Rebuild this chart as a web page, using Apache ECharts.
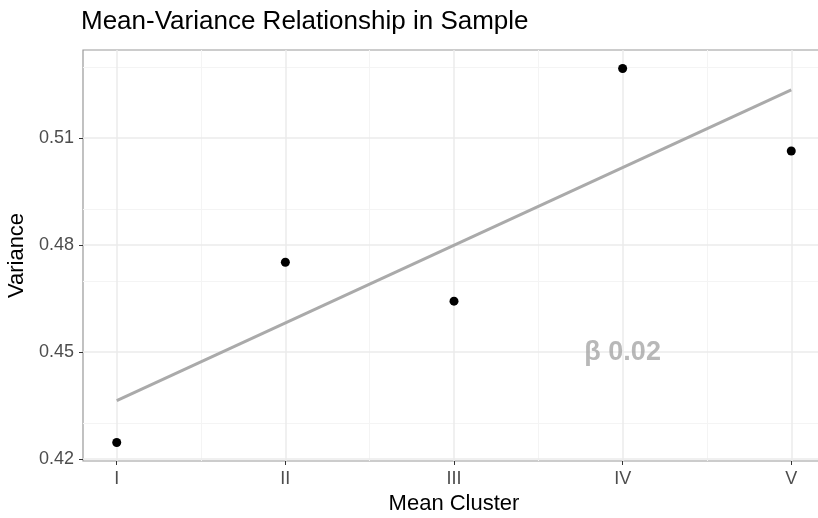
<!DOCTYPE html>
<html>
<head>
<meta charset="utf-8">
<script src="https://cdn.jsdelivr.net/npm/echarts@6/dist/echarts.min.js"></script>
<style>
  html, body { margin: 0; padding: 0; background: #fff; overflow: hidden; }
  #chart { width: 818px; height: 518px; }
</style>
</head>
<body>
<div id="chart"></div>
<script>
// data
var clusters = ['I', 'II', 'III', 'IV', 'V'];
var clusterPos = [1, 2, 3, 4, 5];
var variance = [0.4247, 0.4752, 0.4643, 0.5295, 0.5064];
var yTicks = [0.42, 0.45, 0.48, 0.51];
var yMinor = [0.435, 0.465, 0.495, 0.525];
var xMinor = [1.5, 2.5, 3.5, 4.5];
var fitX = [1, 5];
var fitY = [0.4364, 0.5235];
var betaPos = [4, 0.45];
var betaText = 'β 0.02';

var FONT = '"Liberation Sans", Arial, sans-serif';

function gridLines(axis, vals, color, width) {
    return vals.map(function (v) {
        var d = { lineStyle: { color: color, width: width, type: 'solid' } };
        d[axis] = v;
        return d;
    });
}

var myChart = echarts.init(document.getElementById('chart'));
var option = {
    animation: false,
    title: {
        text: 'Mean-Variance Relationship in Sample',
        left: 76,
        top: 4,
        textStyle: { fontFamily: FONT, fontSize: 26, fontWeight: 'normal', color: '#000' }
    },
    grid: {
        left: 83, width: 742, top: 50, bottom: 57,
        outerBoundsMode: 'none',
        containLabel: false,
        show: true, borderColor: '#999', borderWidth: 1.2, backgroundColor: '#fff'
    },
    xAxis: {
        type: 'value',
        min: 0.8, max: 5.2,
        name: 'Mean Cluster',
        nameLocation: 'middle',
        nameGap: 25,
        nameTextStyle: { fontFamily: FONT, fontSize: 22, color: '#000' },
        axisLine: { show: false },
        splitLine: { show: false },
        axisTick: { show: true, length: 4, customValues: clusterPos, lineStyle: { color: '#333' } },
        axisLabel: {
            customValues: clusterPos,
            margin: 9,
            fontFamily: FONT, fontSize: 18, color: '#4d4d4d',
            formatter: function (v) { return clusters[Math.round(v) - 1]; }
        }
    },
    yAxis: {
        type: 'value',
        min: 0.4195, max: 0.5347,
        name: 'Variance',
        nameLocation: 'middle',
        nameGap: 52,
        nameTextStyle: { fontFamily: FONT, fontSize: 22, color: '#000' },
        axisLine: { show: false },
        splitLine: { show: false },
        axisTick: { show: true, length: 4, customValues: yTicks, lineStyle: { color: '#333' } },
        axisLabel: {
            customValues: yTicks,
            margin: 9,
            fontFamily: FONT, fontSize: 18, color: '#4d4d4d',
            formatter: function (v) { return v.toFixed(2); }
        }
    },
    series: [
        {
            // panel grid, drawn behind everything
            type: 'line',
            data: [],
            z: 1,
            silent: true,
            markLine: {
                silent: true,
                z: 1,
                symbol: 'none',
                label: { show: false },
                animation: false,
                data: [].concat(
                    gridLines('xAxis', xMinor, '#f4f4f4', 1),
                    gridLines('yAxis', yMinor, '#f4f4f4', 1),
                    gridLines('xAxis', clusterPos, '#ebebeb', 1.5),
                    gridLines('yAxis', yTicks, '#ebebeb', 1.5)
                )
            }
        },
        {
            type: 'line',
            z: 3,
            data: fitX.map(function (x, i) { return [x, fitY[i]]; }),
            showSymbol: false,
            lineStyle: { color: '#aaaaaa', width: 3 }
        },
        {
            type: 'scatter',
            z: 4,
            data: clusterPos.map(function (x, i) { return [x, variance[i]]; }),
            symbolSize: 9,
            itemStyle: { color: '#000', opacity: 1 }
        },
        {
            type: 'scatter',
            z: 5,
            data: [betaPos],
            symbolSize: 0,
            label: {
                show: true,
                position: 'inside',
                formatter: betaText,
                fontFamily: FONT, fontSize: 27, fontWeight: 'bold', color: '#a6a6a6'
            }
        }
    ]
};
myChart.setOption(option);
</script>
</body>
</html>
